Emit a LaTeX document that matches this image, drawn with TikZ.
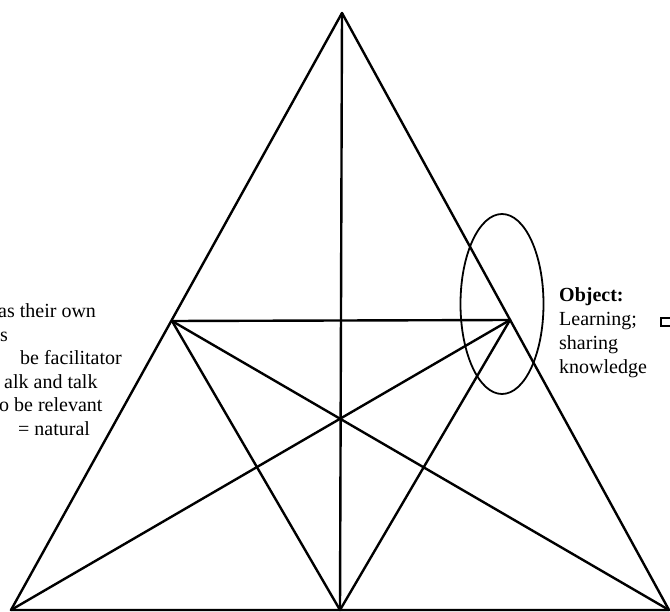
\documentclass[tikz,border=0pt]{standalone}
\usepackage{fontspec}
\setmainfont{Liberation Serif}
\usetikzlibrary{positioning,shapes.geometric}

\begin{document}
\begin{tikzpicture}[x=1pt,y=-1pt,
    edge/.style={line width=2.4pt,line cap=round,line join=round},
    txt/.style={anchor=base west,inner sep=0pt,font=\fontsize{20}{24}\selectfont}]
    % picture frame
    \useasboundingbox (0,0) rectangle (670,612);

    % corners of the big triangle and the cross line
    \coordinate (apex) at (342,13);
    \coordinate (botL) at (11,610);
    \coordinate (botM) at (340,610);
    \coordinate (botR) at (669,610);
    \coordinate (midL) at (172,321);
    \coordinate (midR) at (510,320);

    % outline
    \draw[edge] (apex) -- (botL) -- (botR) -- cycle;

    % inner lines
    \draw[edge] (midL) -- (midR);
    \draw[edge] (apex) -- (botM);
    \draw[edge] (midL) -- (botM) -- (midR);
    \draw[edge] (midL) -- (botR);
    \draw[edge] (midR) -- (botL);

    % ring round the right corner
    \node[ellipse,draw,line width=1.8pt,inner sep=0pt,
          minimum width=83pt,minimum height=180pt] (ring) at (502,304) {};

    % text on the right
    \node[txt] (obj) at (559,302) {\bfseries Object:};
    \foreach \t [count=\i] in {{Learning;},sharing,knowledge}
        \node[txt] (obj\i) at (559,302+23.7*\i) {\t};
    \draw[line width=2pt] (672,318) -- (661,318) -- (661,326) -- (672,326);

    % text on the left, cut off by the frame
    \foreach \x/\y/\t [count=\i] in {-2/318/as their own,0/342/s,
        20/365/be facilitator,4/389/alk and talk,-1/412/o be relevant,
        18/436/= natural}
        \node[txt] (left\i) at (\x,\y) {\t};

\end{tikzpicture}
\end{document}
